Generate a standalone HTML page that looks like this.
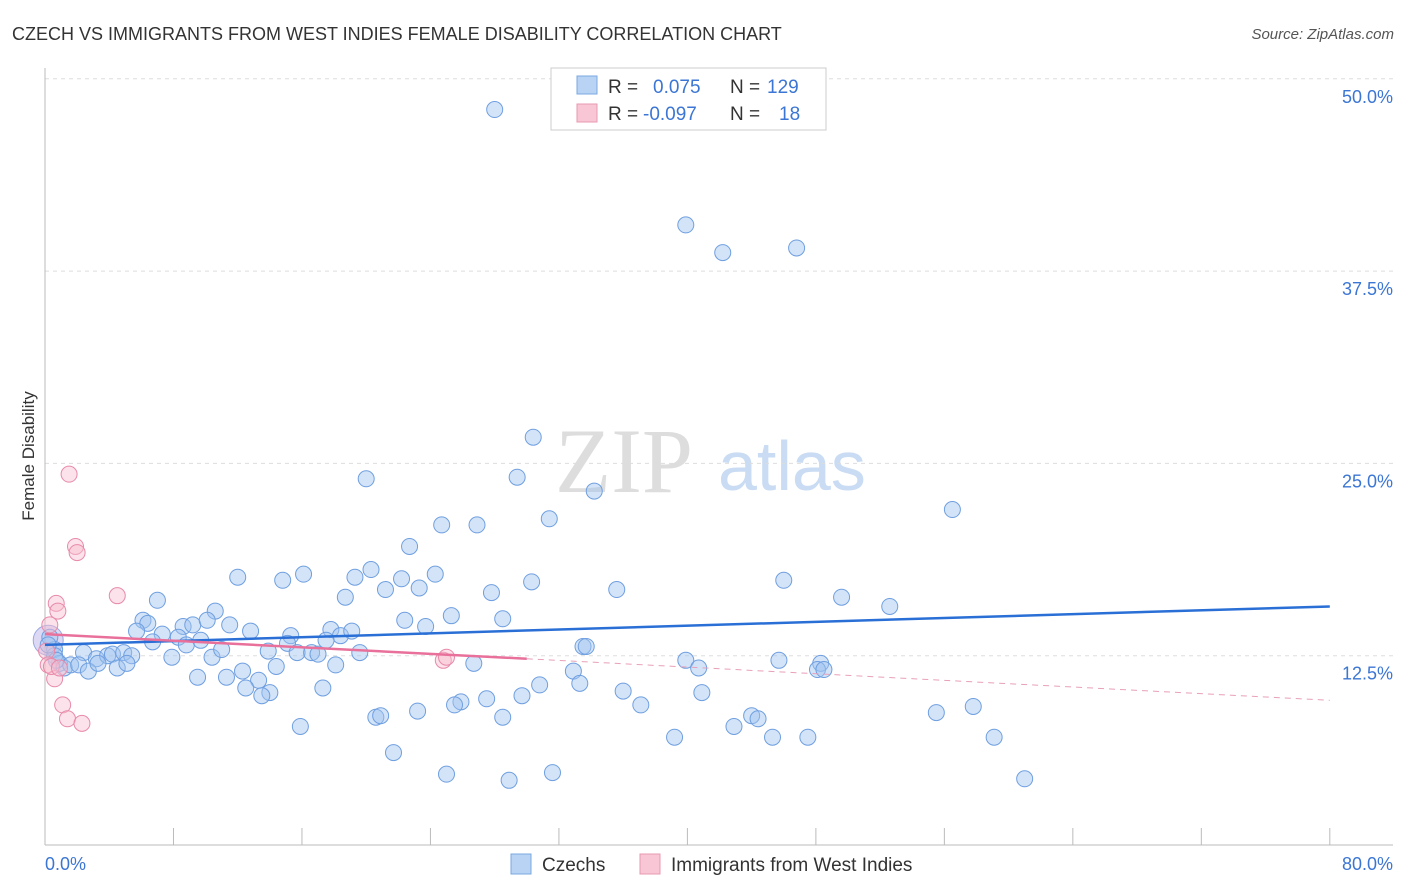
<!DOCTYPE html>
<html><head><meta charset="utf-8"><style>
body{margin:0;background:#fff;font-family:"Liberation Sans",sans-serif}
svg{display:block}
</style></head><body>
<svg id="chart" width="1406" height="892">
<text x="12" y="40" font-size="18" fill="#333">CZECH VS IMMIGRANTS FROM WEST INDIES FEMALE DISABILITY CORRELATION CHART</text>
<text x="1394" y="39" font-size="15" fill="#555" font-style="italic" text-anchor="end">Source: ZipAtlas.com</text>
<g>
<text x="555" y="492" font-size="92" font-family="Liberation Serif,serif" fill="#ddd">ZIP</text>
<text x="718" y="490" font-size="70" fill="#c9dcf3">atlas</text>
</g>
<g id="grid"></g>
<line x1="45" y1="68" x2="45" y2="845" stroke="#bbb"/>
<line x1="45" y1="845" x2="1393" y2="845" stroke="#bbb"/>
<g id="xticks"></g>
<g id="marks"></g>
<text transform="translate(34,456) rotate(-90)" font-size="17" fill="#333" text-anchor="middle">Female Disability</text>
<text x="45" y="870" font-size="18" fill="#3b76d4">0.0%</text>
<text x="1393" y="870" font-size="18" fill="#3b76d4" text-anchor="end">80.0%</text>
<g>
<rect x="551" y="68" width="275" height="62" fill="#fff" stroke="#ccc"/>
<rect x="577" y="76" width="20" height="18" fill="#b9d3f5" stroke="#7aa8e0"/>
<rect x="577" y="104" width="20" height="18" fill="#f8c6d5" stroke="#e89ab2"/>
<text x="608" y="93" font-size="19" fill="#333">R = <tspan fill="#3b76d4" x="653">0.075</tspan><tspan x="730">N = </tspan><tspan fill="#3b76d4" x="767">129</tspan></text>
<text x="608" y="120" font-size="19" fill="#333">R = <tspan fill="#3b76d4" x="643">-0.097</tspan><tspan x="730">N = </tspan><tspan fill="#3b76d4" x="779">18</tspan></text>
</g>
<g>
<rect x="511" y="854" width="20" height="20" fill="#b9d3f5" stroke="#7aa8e0"/>
<text x="542" y="871" font-size="19" fill="#333">Czechs</text>
<rect x="640" y="854" width="20" height="20" fill="#f8c6d5" stroke="#e89ab2"/>
<text x="671" y="871" font-size="19" fill="#333">Immigrants from West Indies</text>
</g>
</svg>
<script>
const yTicks=[12.5,25,37.5,50];
const xTickVals=[0,8,16,24,32,40,48,56,64,72,80];
const czX=[28.0,39.9,42.2,46.8,30.4,20.0,29.4,34.2,56.5,24.7,26.9,31.4,22.7,12.0,14.8,16.1,19.3,20.3,22.2,24.3,30.3,35.6,46.0,7.0,10.6,18.7,21.2,23.3,27.8,49.6,52.6,6.1,6.4,8.6,9.2,10.1,11.5,12.8,5.7,7.3,8.3,6.7,8.8,9.7,15.3,15.1,17.8,18.4,19.1,22.4,23.7,25.3,28.5,17.5,33.5,33.7,0.6,2.4,3.2,3.9,4.2,4.9,5.4,7.9,10.4,11.0,13.9,15.7,16.6,17.0,19.6,39.9,40.7,45.7,48.3,48.1,48.5,32.9,26.7,0.9,1.2,1.6,2.1,2.7,3.3,4.5,5.1,12.3,14.4,18.1,0.6,0.7,9.5,11.3,13.3,33.3,30.8,17.3,12.5,14.0,13.5,36.0,40.9,29.7,25.9,25.5,27.5,37.1,55.5,57.8,23.2,20.6,20.9,28.5,44.0,44.4,42.9,15.9,39.2,45.3,47.5,59.1,21.7,25.0,28.9,31.6,61.0,0.3,0.2];
const czY=[48.0,40.5,38.7,39.0,26.7,24.0,24.1,23.2,22.0,21.0,21.0,21.4,19.6,17.6,17.4,17.8,17.6,18.1,17.5,17.8,17.3,16.8,17.4,16.1,15.4,16.3,16.8,16.9,16.6,16.3,15.7,14.8,14.6,14.4,14.5,14.8,14.5,14.1,14.1,13.9,13.7,13.4,13.2,13.5,13.8,13.3,14.2,13.8,14.1,14.8,14.4,15.1,14.9,13.5,13.1,13.1,12.9,12.7,12.3,12.5,12.6,12.7,12.5,12.4,12.4,12.9,12.8,12.7,12.7,12.6,12.7,12.2,11.7,12.2,12.0,11.6,11.6,11.5,12.0,12.0,11.7,11.9,11.9,11.5,12.0,11.7,12.0,11.5,11.8,11.9,12.5,12.2,11.1,11.1,10.9,10.7,10.6,10.4,10.4,10.1,9.9,10.2,10.1,9.9,9.5,9.3,9.7,9.3,8.8,9.2,8.9,8.5,8.6,8.5,8.6,8.4,7.9,7.9,7.2,7.2,7.2,7.2,6.2,4.8,4.4,4.9,4.5,13.7,13.2];
const wiX=[1.5,1.9,2.0,4.5,0.7,0.8,0.3,0.1,0.2,0.6,1.1,1.4,2.3,24.8,25.0,0.4,0.9];
const wiY=[24.3,19.6,19.2,16.4,15.9,15.4,14.5,12.8,11.9,11.0,9.3,8.4,8.1,12.2,12.4,11.8,11.7];
const czTrend=[[0,13.2],[80,15.7]];
const wiTrendSolid=[[0,13.9],[30,12.3]];
const wiTrendDash=[[30,12.3],[80,9.6]];
const bigPoint=[0.2,13.5];

const NS='http://www.w3.org/2000/svg';
const X=v=>45+v*16.06;
const Y=v=>848-v*15.385;
function mk(tag,attrs,parent){const e=document.createElementNS(NS,tag);for(const k in attrs)e.setAttribute(k,attrs[k]);parent.appendChild(e);return e;}
const grid=document.getElementById('grid'),xt=document.getElementById('xticks'),marks=document.getElementById('marks');
yTicks.forEach(t=>{
 const l=mk('line',{x1:45,x2:1393,y1:Y(t),y2:Y(t),stroke:'#ddd','stroke-dasharray':'4,4'},grid);
 
 
 const tx=mk('text',{x:1393,y:Y(t)+24,'font-size':18,fill:'#3b76d4','text-anchor':'end'},grid);
 tx.textContent=t.toFixed(1)+'%';
 
 
});
xTickVals.forEach(t=>{
 const l=mk('line',{x1:X(t),x2:X(t),y1:828,y2:845,stroke:'#bbb'},xt);
 
 
});
const bp=mk('circle',{cx:X(bigPoint[0]),cy:Y(bigPoint[1]),r:15,fill:'rgba(180,170,230,0.45)',stroke:'#9aa8e0'},marks);


czX.forEach((v,i)=>{
 const c=mk('circle',{cx:X(v),cy:Y(czY[i]),r:8,fill:'rgba(160,196,240,0.45)',stroke:'#6f9fe0','stroke-width':1},marks);
 
 
});
wiX.forEach((v,i)=>{
 const c=mk('circle',{cx:X(v),cy:Y(wiY[i]),r:8,fill:'rgba(248,190,208,0.45)',stroke:'#e88aaa','stroke-width':1},marks);
 
 
});
const l1=mk('line',{x1:X(czTrend[0][0]),y1:Y(czTrend[0][1]),x2:X(czTrend[1][0]),y2:Y(czTrend[1][1]),stroke:'#2a6fd6','stroke-width':2.5},marks);


const l2=mk('line',{x1:X(wiTrendSolid[0][0]),y1:Y(wiTrendSolid[0][1]),x2:X(wiTrendSolid[1][0]),y2:Y(wiTrendSolid[1][1]),stroke:'#e8709a','stroke-width':2.5},marks);


const l3=mk('line',{x1:X(wiTrendDash[0][0]),y1:Y(wiTrendDash[0][1]),x2:X(wiTrendDash[1][0]),y2:Y(wiTrendDash[1][1]),stroke:'#e8a0b8','stroke-width':1,'stroke-dasharray':'6,5'},marks);


</script>
</body></html>
